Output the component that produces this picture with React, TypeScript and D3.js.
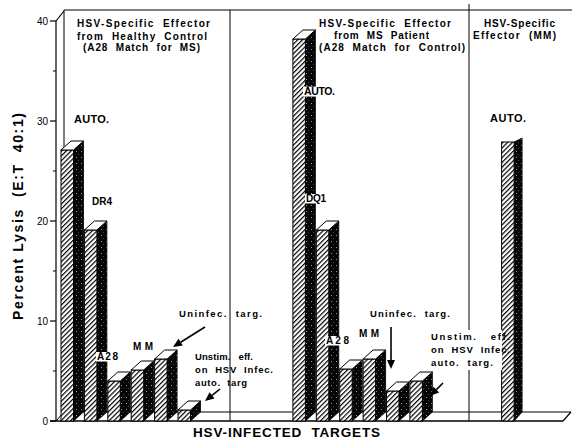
import React from 'react';
import * as d3 from 'd3';

// ---- data ----
const healthyTargets = ['AUTO.', 'DR4', 'A28', 'MM', 'Uninfec. targ.', 'Unstim. eff.'];
const healthyLysis = [27.1, 19.1, 4.0, 5.1, 6.2, 1.1];
const msTargets = ['AUTO.', 'DQ1', 'A28', 'MM', 'Uninfec. targ.', 'Unstim. eff.'];
const msLysis = [38.2, 19.1, 5.2, 6.2, 3.0, 4.0];
const mmTargets = ['AUTO.'];
const mmLysis = [27.9];
const yTicks = [0, 10, 20, 30, 40];
const yMinorTicks = [5, 15, 25, 35];
const yTitle = 'Percent Lysis  (E:T  40:1)';
const xTitle = 'HSV-INFECTED  TARGETS';
const titleHealthy = ['HSV-Specific  Effector', 'from  Healthy  Control', '(A28  Match  for  MS)'];
const titleMS = ['HSV-Specific  Effector', 'from  MS  Patient', '(A28  Match  for  Control)'];
const titleMM = ['HSV-Specific', 'Effector  (MM)'];

const W = 572;
const H = 439;
const FONT = "'Liberation Sans', Arial, Helvetica, sans-serif";

const y = d3.scaleLinear().domain([0, 40]).range([421, 21]);
const slot = d3.scaleLinear().domain([0, 1]).range([61, 84.4]);
const BW = 12.5;
const DX = 10;
const DY = 9;

type Panel = { start: number; targets: string[]; values: number[]; top: boolean };
const panels: Panel[] = [
  { start: 0, targets: healthyTargets, values: healthyLysis, top: true },
  { start: 9.91, targets: msTargets, values: msLysis, top: true },
  { start: 18.83, targets: mmTargets, values: mmLysis, top: false },
];

function Bar({ x0, v, top }: { x0: number; v: number; top: boolean }) {
  const yt = y(v);
  const yb = y(0);
  const x1 = x0 + BW;
  const dy = top ? DY : 4;
  const dx = top ? DX : 8;
  const side = d3.line()([
    [x1, yt],
    [x1 + dx, yt - dy],
    [x1 + dx, yb - DY],
    [x1, yb],
  ]) + 'Z';
  const topFace = d3.line()([
    [x0, yt],
    [x0 + dx, yt - dy],
    [x1 + dx, yt - dy],
    [x1, yt],
  ]) + 'Z';
  return (
    <g>
      <path d={side} fill="url(#stip)" stroke="#000" strokeWidth={0.8} />
      <rect x={x0} y={yt} width={BW} height={yb - yt} fill="url(#hatch)" stroke="#000" strokeWidth={1} />
      {top && <path d={topFace} fill="#fff" stroke="#000" strokeWidth={1} />}
    </g>
  );
}

function Label({ x, yb, w, size = 10, text, bg = false, weight = 'bold' }:
  { x: number; yb: number; w: number; size?: number; text: string; bg?: boolean; weight?: string }) {
  return (
    <g>
      {bg && <rect x={x - 1} y={yb - size * 0.8} width={w + 2} height={size * 0.95} fill="#fff" />}
      <text x={x} y={yb} fontSize={size} fontWeight={weight} textLength={w} lengthAdjust="spacing"
        style={{ whiteSpace: 'pre' }}>{text}</text>
    </g>
  );
}

function Arrow({ x1, y1, x2, y2 }: { x1: number; y1: number; x2: number; y2: number }) {
  const a = Math.atan2(y2 - y1, x2 - x1);
  const L = 9, Wd = 4;
  const bx = x2 - L * Math.cos(a), by = y2 - L * Math.sin(a);
  const p1 = [bx + Wd * Math.sin(a), by - Wd * Math.cos(a)];
  const p2 = [bx - Wd * Math.sin(a), by + Wd * Math.cos(a)];
  return (
    <g>
      <line x1={x1} y1={y1} x2={bx} y2={by} stroke="#000" strokeWidth={1.6} />
      <path d={`M${x2},${y2}L${p1[0]},${p1[1]}L${p2[0]},${p2[1]}Z`} fill="#000" />
    </g>
  );
}

export default function App() {
  const yb = y(0);
  return (
    <svg width={W} height={H} viewBox={`0 0 ${W} ${H}`}
      style={{ position: 'absolute', left: 0, top: 0, background: '#fff', fontFamily: FONT }}>
      <defs>
        <pattern id="hatch" patternUnits="userSpaceOnUse" width={3.4} height={3.4}
          patternTransform="rotate(45)">
          <rect width={3.4} height={3.4} fill="#fff" />
          <line x1={0.6} y1={0} x2={0.6} y2={3.4} stroke="#000" strokeWidth={1.2} />
        </pattern>
        <pattern id="stip" patternUnits="userSpaceOnUse" width={5} height={6}>
          <rect width={5} height={6} fill="#050505" />
          <rect x={1} y={1} width={0.8} height={0.8} fill="#eee" />
          <rect x={3.4} y={4} width={0.6} height={0.6} fill="#aaa" />
        </pattern>
      </defs>
      <rect width={W} height={H} fill="#fff" />

      {/* frame: back wall, top border, axis */}
      <g stroke="#000" fill="none">
        <line x1={64} y1={10} x2={W} y2={10} strokeWidth={1.2} />
        <line x1={64} y1={10} x2={64} y2={412} strokeWidth={1} />
        <line x1={56} y1={yb} x2={56} y2={y(40)} strokeWidth={1.2} />
        <line x1={56} y1={y(40)} x2={64} y2={11} strokeWidth={1.2} />
        <line x1={230} y1={10} x2={230} y2={yb} strokeWidth={1} />
        <line x1={469} y1={4} x2={469} y2={yb} strokeWidth={1} />
        {/* floor */}
        <line x1={64} y1={412} x2={571} y2={412} strokeWidth={1.2} />
        <line x1={50} y1={yb} x2={563} y2={yb} strokeWidth={1.4} />
        <line x1={571} y1={412} x2={563} y2={yb} strokeWidth={1.2} />
        <line x1={56} y1={yb} x2={64} y2={412} strokeWidth={1} />
      </g>

      {/* y axis ticks */}
      {yTicks.map((t) => (
        <g key={'t' + t}>
          <line x1={50} x2={56} y1={y(t)} y2={y(t)} stroke="#000" strokeWidth={1.2} />
          <text x={48} y={y(t)} dy="0.35em" textAnchor="end" fontSize={10}>{t}</text>
        </g>
      ))}
      {yMinorTicks.map((t) => (
        <line key={'m' + t} x1={53} x2={56} y1={y(t)} y2={y(t)} stroke="#000" strokeWidth={1} />
      ))}

      {/* bars */}
      {panels.map((p, pi) => (
        <g key={'p' + pi}>
          {p.values.map((v, i) => (
            <Bar key={p.targets[i]} x0={slot(p.start + i)} v={v} top={p.top} />
          ))}
        </g>
      ))}

      {/* panel titles */}
      <Label x={77} yb={27} w={133} text={titleHealthy[0]} />
      <Label x={77} yb={40} w={130} text={titleHealthy[1]} />
      <Label x={83} yb={51} w={117} text={titleHealthy[2]} />
      <Label x={319} yb={26.5} w={132} text={titleMS[0]} />
      <Label x={334} yb={39} w={95} text={titleMS[1]} />
      <Label x={319} yb={51} w={146} text={titleMS[2]} />
      <Label x={484} yb={26.5} w={71} text={titleMM[0]} />
      <Label x={473} yb={39} w={83} text={titleMM[1]} />

      {/* bar annotations: healthy control */}
      <Label x={74} yb={123} w={35} size={11} text={healthyTargets[0]} />
      <Label x={92} yb={205} w={20} size={10} text={healthyTargets[1]} />
      <Label x={97} yb={360} w={21} text="A 2 8" bg />
      <Label x={133} yb={350} w={20} text="M M" />
      <Label x={179} yb={317} w={83} size={9.5} text="Uninfec.  targ." />
      <Arrow x1={205} y1={327} x2={173} y2={347} />
      <Label x={195} yb={360} w={58} size={9.5} text="Unstim.   eff." />
      <Label x={195} yb={373} w={78} size={9.5} text="on  HSV  Infec." />
      <Label x={195} yb={386} w={52} size={9.5} text="auto.  targ" />
      <Arrow x1={220} y1={389} x2={205} y2={401} />

      {/* bar annotations: MS patient */}
      <Label x={304} yb={95} w={31} size={10.5} text={msTargets[0]} bg />
      <Label x={306} yb={202} w={20} size={10} text={msTargets[1]} bg />
      <Label x={326} yb={344} w={23} text="A 2 8" bg />
      <Label x={359} yb={337} w={20} text="M M" />
      <Label x={370} yb={317} w={80} size={9.5} text="Uninfec.  targ." />
      <Arrow x1={391} y1={327} x2={391} y2={369} />
      <rect x={428} y={330} width={74} height={40} fill="#fff" />
      <Label x={431} yb={340} w={79} size={9.5} text="Unstim.   eff." />
      <Label x={431} yb={353} w={79} size={9.5} text="on  HSV  Infec." />
      <Label x={431} yb={366} w={62} size={9.5} text="auto.  targ." />
      <Arrow x1={443} y1={383} x2={430} y2={396} />

      {/* MM */}
      <Label x={490} yb={122} w={36} size={11} text={mmTargets[0]} />

      {/* axis titles */}
      <text transform="translate(23,216.5) rotate(-90)" textAnchor="middle" fontSize={14} fontWeight="bold"
        textLength={207} lengthAdjust="spacing" style={{ whiteSpace: 'pre' }}>{yTitle}</text>
      <text x={193} y={437} fontSize={13.5} fontWeight="bold" textLength={187} lengthAdjust="spacing"
        style={{ whiteSpace: 'pre' }}>{xTitle}</text>
    </svg>
  );
}
